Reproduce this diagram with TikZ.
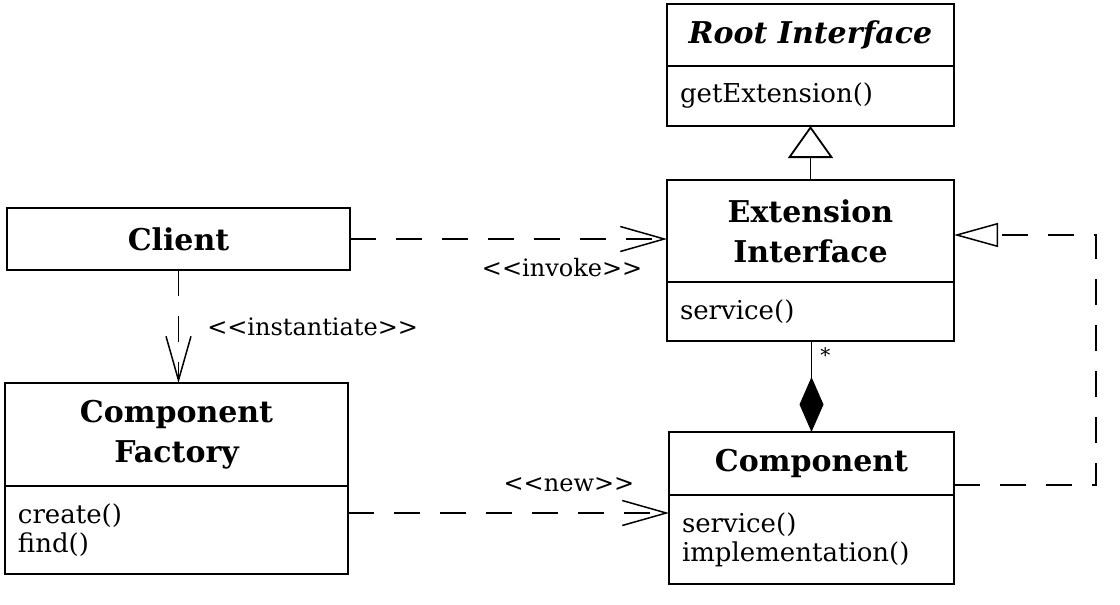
\documentclass[tikz,border=0pt]{standalone}
\usepackage{fontspec}
\setmainfont{DejaVu Serif}
\usetikzlibrary{positioning,arrows.meta}
\newcommand\stereo[1]{<\kern0pt<#1>\kern0pt>}
\tikzset{
	clsname/.style={draw, line width=0.9pt, outer sep=0pt, align=center, inner sep=0pt, font=\fontsize{15}{20}\selectfont\bfseries},
	clsops/.style={draw, line width=0.9pt, outer sep=0pt, align=left, inner xsep=6.5pt, inner ysep=0pt, font=\fontsize{13}{14.5}\selectfont},
	lbl/.style={inner sep=0pt, font=\fontsize{12}{14}\selectfont},
	dep/.style={line width=0.75pt, dash pattern=on 13pt off 10pt, -{Straight Barb[length=22pt,width=12.5pt]}},
	gen/.style={line width=0.9pt, -{Triangle[open,length=16pt,width=22.5pt]}},
	real/.style={line width=0.75pt, dash pattern=on 13pt off 10pt, -{Triangle[open,length=22pt,width=12pt]}},
	comp/.style={line width=0.9pt, {Diamond[length=27.5pt,width=12pt]}-}
}
\begin{document}
\begin{tikzpicture}[x=0.5pt,y=-0.5pt]
	\useasboundingbox (0,0) rectangle (1120,605);
%	% Classes
	\node[clsname, anchor=north west, minimum width=143.5pt, minimum height=31pt] (root) at (667,4) {\textit{Root Interface}};
	\node[clsops, text width=130.5pt, minimum height=30pt, below=0pt of root] (rootops) {getExtension()};
	\node[clsname, anchor=north west, minimum width=143.5pt, minimum height=51pt] (ext) at (667,180) {Extension\\Interface};
	\node[clsops, text width=130.5pt, minimum height=29.5pt, below=0pt of ext] (extops) {service()};
	\node[clsname, anchor=north west, minimum width=171.5pt, minimum height=31pt] (client) at (7,208) {Client};
	\node[clsname, anchor=north west, minimum width=171.5pt, minimum height=51.5pt] (factory) at (5,383) {Component\\Factory};
	\node[clsops, text width=158.5pt, minimum height=44pt, below=0pt of factory] (facops) {create()\\find()};
	\node[clsname, anchor=north west, minimum width=142.5pt, minimum height=31.5pt] (compo) at (669,432) {Component};
	\node[clsops, text width=129.5pt, minimum height=44.5pt, below=0pt of compo] (compops) {service()\\implementation()};
%	% Relations
	\draw[gen] (ext.north) -- (rootops.south);
	\draw[dep] (client.east) -- (client.east -| ext.west) node[lbl, anchor=north east, xshift=-12pt, yshift=-9.5pt] (invokelbl) {\stereo{invoke}};
	\draw[dep] (client.south) -- (client.south |- factory.north) node[lbl, pos=0.5, anchor=west, xshift=14pt] (instlbl) {\stereo{instantiate}};
	\coordinate (newfrom) at ([yshift=-13.5pt]facops.north east);
	\draw[dep] (newfrom) -- (newfrom -| compops.west) node[lbl, anchor=south east, xshift=-17pt, yshift=10pt] (newlbl) {\stereo{new}};
	\draw[comp] (compo.north) -- (compo.north |- extops.south) node[lbl, anchor=north west, xshift=4pt, yshift=-3pt, font=\fontsize{10}{12}\selectfont] (manylbl) {*};
	\coordinate (realfrom) at ([yshift=-10.75pt]compo.east);
	\draw[real] (realfrom) -- ++(142,0) |- ([yshift=-2pt]ext.east);
\end{tikzpicture}
\end{document}
